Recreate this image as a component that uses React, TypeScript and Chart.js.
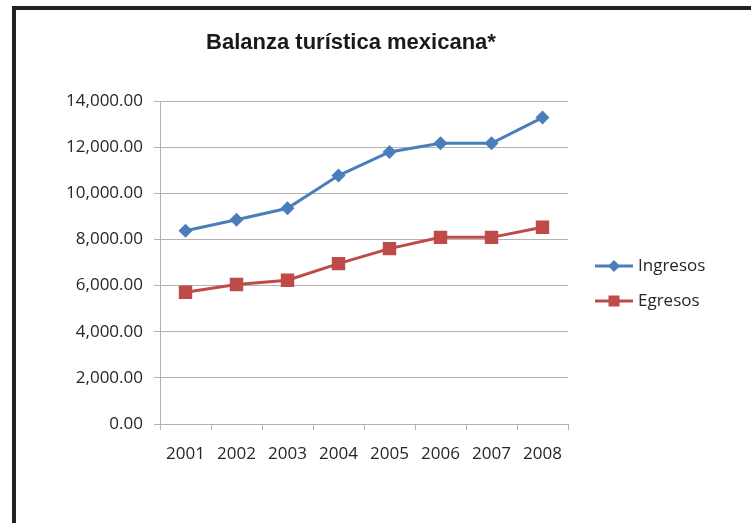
import React, { useEffect, useRef } from "react";
import { Chart, registerables } from "chart.js";

Chart.register(...registerables);

const TITLE = "Balanza turística mexicana*";
const YEARS = ["2001", "2002", "2003", "2004", "2005", "2006", "2007", "2008"];
const INGRESOS = [8380, 8850, 9350, 10770, 11790, 12170, 12170, 13280];
const EGRESOS = [5710, 6050, 6230, 6950, 7600, 8090, 8090, 8530];
const SERIES_NAMES = ["Ingresos", "Egresos"];
const Y_MIN = 0;
const Y_MAX = 14000;
const Y_STEP = 2000;

const BLUE = "#4a7ebb";
const RED = "#be4b48";
const GRID = "#b3b3b3";
const TEXT = "#262626";
const FONT = "'Open Sans', 'Noto Sans', sans-serif";

function drawMarker(ctx: CanvasRenderingContext2D, style: string, x: number, y: number, r: number, color: string) {
  ctx.save();
  ctx.fillStyle = color;
  ctx.beginPath();
  if (style === "rectRot") {
    ctx.moveTo(x, y - r);
    ctx.lineTo(x + r, y);
    ctx.lineTo(x, y + r);
    ctx.lineTo(x - r, y);
    ctx.closePath();
  } else {
    ctx.rect(x - r, y - r, 2 * r, 2 * r);
  }
  ctx.fill();
  ctx.restore();
}

const titleAndLegend = {
  id: "titleAndLegend",
  afterDraw(chart: any) {
    const ctx: CanvasRenderingContext2D = chart.ctx;
    const area = chart.chartArea;
    ctx.save();
    // title
    ctx.font = "bold 22px 'Liberation Sans', Arial, sans-serif";
    ctx.fillStyle = "#1a1a1a";
    ctx.textAlign = "center";
    ctx.textBaseline = "alphabetic";
    ctx.fillText(TITLE, area.left + (area.right - area.left) / 2 - 13, 49);

    // legend
    const ds = chart.data.datasets;
    const midY = area.top + (area.bottom - area.top) / 2 + 21;
    const gap = 35;
    ds.forEach((d: any, i: number) => {
      const y = midY + (i - (ds.length - 1) / 2) * gap;
      const x0 = area.right + 27;
      const x1 = x0 + 38;
      ctx.strokeStyle = d.borderColor;
      ctx.lineWidth = 3;
      ctx.beginPath();
      ctx.moveTo(x0, y);
      ctx.lineTo(x1, y);
      ctx.stroke();
      const half = d.pointStyle === "rectRot" ? 6 : 5.5;
      drawMarker(ctx, d.pointStyle, (x0 + x1) / 2, y, half, d.borderColor);
      ctx.font = `17px ${FONT}`;
      ctx.fillStyle = TEXT;
      ctx.textAlign = "left";
      ctx.textBaseline = "middle";
      ctx.fillText(d.label, x1 + 5, y);
    });
    ctx.restore();
  },
};

export default function App() {
  const ref = useRef<HTMLCanvasElement | null>(null);

  useEffect(() => {
    if (!ref.current) return;
    const chart = new Chart(ref.current, {
      type: "line",
      data: {
        labels: YEARS,
        datasets: [
          {
            label: SERIES_NAMES[0],
            data: INGRESOS,
            borderColor: BLUE,
            backgroundColor: BLUE,
            borderWidth: 3,
            pointStyle: "rectRot",
            pointRadius: 7,
            pointBorderWidth: 0,
            tension: 0,
          },
          {
            label: SERIES_NAMES[1],
            data: EGRESOS,
            borderColor: RED,
            backgroundColor: RED,
            borderWidth: 3,
            pointStyle: "rect",
            pointRadius: 9.5,
            pointBorderWidth: 0,
            tension: 0,
          },
        ],
      },
      options: {
        animation: false,
        responsive: false,
        maintainAspectRatio: false,
        layout: { padding: { left: 0, right: 183, top: 101, bottom: 49 } },
        plugins: {
          legend: { display: false },
          title: { display: false },
          tooltip: { enabled: false },
        },
        scales: {
          x: {
            offset: true,
            grid: {
              offset: true,
              drawOnChartArea: false,
              drawTicks: true,
              tickLength: 6,
              color: GRID,
            },
            border: { display: true, color: GRID, width: 1 },
            ticks: {
              color: TEXT,
              font: { family: FONT, size: 17 },
              padding: 14,
              maxRotation: 0,
              autoSkip: false,
            },
            afterFit: (s: any) => {
              s.height = 50;
            },
          },
          y: {
            min: Y_MIN,
            max: Y_MAX,
            grid: { color: GRID, tickLength: 6, drawTicks: true },
            border: { display: true, color: GRID, width: 1 },
            ticks: {
              stepSize: Y_STEP,
              color: TEXT,
              font: { family: FONT, size: 17 },
              padding: 11,
              callback: (v: any) =>
                Number(v).toLocaleString("en-US", { minimumFractionDigits: 2, maximumFractionDigits: 2 }),
            },
            afterFit: (s: any) => {
              s.width = 160;
            },
          },
        },
      },
      plugins: [titleAndLegend],
    });
    return () => chart.destroy();
  }, []);

  return (
    <div style={{ position: "absolute", left: 0, top: 0, width: 751, height: 523, background: "#fff", overflow: "hidden" }}>
      <canvas ref={ref} width={751} height={523} style={{ position: "absolute", left: 0, top: 0, width: 751, height: 523 }} />
      <div style={{ position: "absolute", left: 12, top: 6, width: 4, height: 517, background: "#222" }} />
      <div style={{ position: "absolute", left: 12, top: 6, width: 739, height: 4, background: "#222" }} />
    </div>
  );
}
